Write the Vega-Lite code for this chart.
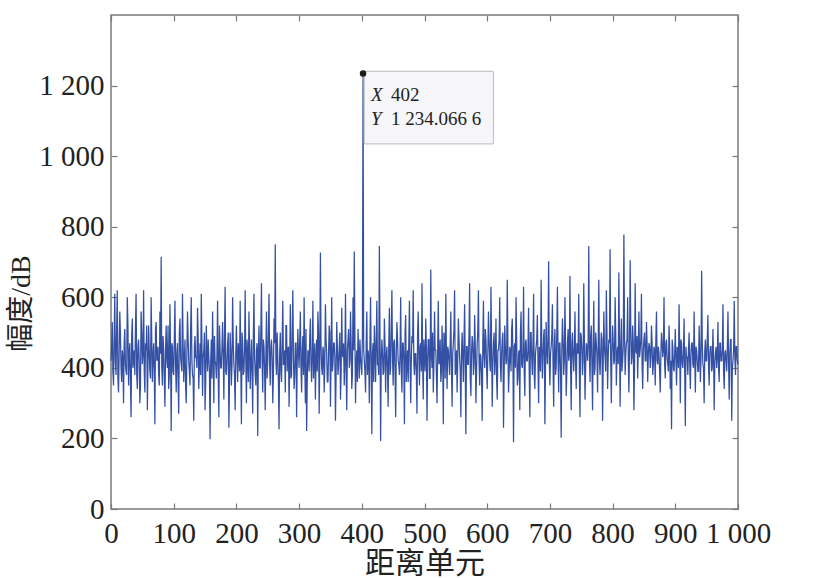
{
  "$schema": "https://vega.github.io/schema/vega-lite/v6.json",
  "width": 627,
  "height": 494,
  "autosize": "none",
  "padding": {"left": 111, "top": 15, "right": 75, "bottom": 69},
  "background": "white",
  "datasets": {
    "sig": [
      {"x":0,"y":420},{"x":2,"y":530},{"x":4,"y":350},{"x":6,"y":610},{"x":8,"y":380},{"x":10,"y":620},{"x":12,"y":330},{"x":14,"y":560},{"x":16,"y":400},{"x":18,"y":450},
      {"x":20,"y":300},{"x":22,"y":510},{"x":24,"y":390},{"x":26,"y":600},{"x":28,"y":350},{"x":30,"y":470},{"x":32,"y":260},{"x":34,"y":540},{"x":36,"y":420},{"x":38,"y":380},
      {"x":40,"y":610},{"x":42,"y":340},{"x":44,"y":480},{"x":46,"y":300},{"x":48,"y":560},{"x":50,"y":410},{"x":52,"y":620},{"x":54,"y":330},{"x":56,"y":450},{"x":58,"y":280},
      {"x":60,"y":520},{"x":62,"y":390},{"x":64,"y":600},{"x":66,"y":360},{"x":68,"y":470},{"x":70,"y":240},{"x":72,"y":530},{"x":74,"y":430},{"x":76,"y":380},{"x":78,"y":560},
      {"x":80,"y":715},{"x":82,"y":350},{"x":84,"y":450},{"x":86,"y":290},{"x":88,"y":520},{"x":90,"y":400},{"x":92,"y":340},{"x":94,"y":580},{"x":96,"y":221},{"x":98,"y":460},
      {"x":100,"y":380},{"x":102,"y":590},{"x":104,"y":330},{"x":106,"y":470},{"x":108,"y":270},{"x":110,"y":540},{"x":112,"y":410},{"x":114,"y":610},{"x":116,"y":360},{"x":118,"y":480},
      {"x":120,"y":300},{"x":122,"y":560},{"x":124,"y":420},{"x":126,"y":350},{"x":128,"y":600},{"x":130,"y":380},{"x":132,"y":250},{"x":134,"y":490},{"x":136,"y":430},{"x":138,"y":570},
      {"x":140,"y":340},{"x":142,"y":470},{"x":144,"y":610},{"x":146,"y":320},{"x":148,"y":450},{"x":150,"y":280},{"x":152,"y":520},{"x":154,"y":390},{"x":156,"y":430},{"x":158,"y":198},
      {"x":160,"y":480},{"x":162,"y":560},{"x":164,"y":300},{"x":166,"y":420},{"x":168,"y":370},{"x":170,"y":590},{"x":172,"y":260},{"x":174,"y":450},{"x":176,"y":400},{"x":178,"y":530},
      {"x":180,"y":310},{"x":182,"y":630},{"x":184,"y":380},{"x":186,"y":470},{"x":188,"y":230},{"x":190,"y":500},{"x":192,"y":350},{"x":194,"y":600},{"x":196,"y":410},{"x":198,"y":280},
      {"x":200,"y":520},{"x":202,"y":360},{"x":204,"y":440},{"x":206,"y":590},{"x":208,"y":240},{"x":210,"y":470},{"x":212,"y":390},{"x":214,"y":620},{"x":216,"y":300},{"x":218,"y":430},
      {"x":220,"y":560},{"x":222,"y":340},{"x":224,"y":480},{"x":226,"y":270},{"x":228,"y":610},{"x":230,"y":380},{"x":232,"y":450},{"x":234,"y":207},{"x":236,"y":520},{"x":238,"y":400},
      {"x":240,"y":640},{"x":242,"y":330},{"x":244,"y":460},{"x":246,"y":280},{"x":248,"y":560},{"x":250,"y":420},{"x":252,"y":610},{"x":254,"y":350},{"x":256,"y":480},{"x":258,"y":300},
      {"x":260,"y":540},{"x":262,"y":750},{"x":264,"y":380},{"x":266,"y":430},{"x":268,"y":226},{"x":270,"y":500},{"x":272,"y":360},{"x":274,"y":590},{"x":276,"y":410},{"x":278,"y":330},
      {"x":280,"y":520},{"x":282,"y":450},{"x":284,"y":290},{"x":286,"y":580},{"x":288,"y":380},{"x":290,"y":620},{"x":292,"y":340},{"x":294,"y":470},{"x":296,"y":260},{"x":298,"y":510},
      {"x":300,"y":400},{"x":302,"y":560},{"x":304,"y":330},{"x":306,"y":490},{"x":308,"y":600},{"x":310,"y":300},{"x":312,"y":221},{"x":314,"y":450},{"x":316,"y":390},{"x":318,"y":540},
      {"x":320,"y":360},{"x":322,"y":590},{"x":324,"y":420},{"x":326,"y":310},{"x":328,"y":480},{"x":330,"y":560},{"x":332,"y":270},{"x":334,"y":727},{"x":336,"y":400},{"x":338,"y":460},
      {"x":340,"y":330},{"x":342,"y":580},{"x":344,"y":440},{"x":346,"y":360},{"x":348,"y":520},{"x":350,"y":290},{"x":352,"y":600},{"x":354,"y":410},{"x":356,"y":470},{"x":358,"y":250},
      {"x":360,"y":530},{"x":362,"y":380},{"x":364,"y":460},{"x":366,"y":310},{"x":368,"y":570},{"x":370,"y":430},{"x":372,"y":350},{"x":374,"y":610},{"x":376,"y":280},{"x":378,"y":480},
      {"x":380,"y":400},{"x":382,"y":560},{"x":384,"y":340},{"x":386,"y":600},{"x":388,"y":730},{"x":390,"y":300},{"x":392,"y":450},{"x":394,"y":510},{"x":396,"y":370},{"x":398,"y":430},
      {"x":400,"y":380},{"x":402,"y":1234.0666},{"x":404,"y":420},{"x":406,"y":330},{"x":408,"y":560},{"x":410,"y":450},{"x":412,"y":300},{"x":414,"y":600},{"x":416,"y":212},{"x":418,"y":470},
      {"x":420,"y":520},{"x":422,"y":360},{"x":424,"y":590},{"x":426,"y":410},{"x":428,"y":745},{"x":430,"y":193},{"x":432,"y":480},{"x":434,"y":380},{"x":436,"y":540},{"x":438,"y":330},
      {"x":440,"y":460},{"x":442,"y":290},{"x":444,"y":570},{"x":446,"y":400},{"x":448,"y":620},{"x":450,"y":350},{"x":452,"y":480},{"x":454,"y":260},{"x":456,"y":530},{"x":458,"y":420},
      {"x":460,"y":380},{"x":462,"y":600},{"x":464,"y":330},{"x":466,"y":470},{"x":468,"y":240},{"x":470,"y":550},{"x":472,"y":410},{"x":474,"y":360},{"x":476,"y":590},{"x":478,"y":300},
      {"x":480,"y":490},{"x":482,"y":620},{"x":484,"y":380},{"x":486,"y":440},{"x":488,"y":270},{"x":490,"y":560},{"x":492,"y":350},{"x":494,"y":470},{"x":496,"y":640},{"x":498,"y":310},
      {"x":500,"y":430},{"x":502,"y":540},{"x":504,"y":250},{"x":506,"y":480},{"x":508,"y":370},{"x":510,"y":679},{"x":512,"y":400},{"x":514,"y":330},{"x":516,"y":560},{"x":518,"y":450},
      {"x":520,"y":300},{"x":522,"y":590},{"x":524,"y":420},{"x":526,"y":360},{"x":528,"y":520},{"x":530,"y":240},{"x":532,"y":480},{"x":534,"y":610},{"x":536,"y":340},{"x":538,"y":450},
      {"x":540,"y":380},{"x":542,"y":560},{"x":544,"y":290},{"x":546,"y":470},{"x":548,"y":620},{"x":550,"y":400},{"x":552,"y":330},{"x":554,"y":540},{"x":556,"y":430},{"x":558,"y":260},
      {"x":560,"y":500},{"x":562,"y":360},{"x":564,"y":580},{"x":566,"y":212},{"x":568,"y":460},{"x":570,"y":410},{"x":572,"y":640},{"x":574,"y":320},{"x":576,"y":490},{"x":578,"y":380},
      {"x":580,"y":550},{"x":582,"y":300},{"x":584,"y":470},{"x":586,"y":620},{"x":588,"y":350},{"x":590,"y":430},{"x":592,"y":250},{"x":594,"y":590},{"x":596,"y":400},{"x":598,"y":480},
      {"x":600,"y":340},{"x":602,"y":560},{"x":604,"y":420},{"x":606,"y":630},{"x":608,"y":290},{"x":610,"y":470},{"x":612,"y":380},{"x":614,"y":540},{"x":616,"y":310},{"x":618,"y":450},
      {"x":620,"y":600},{"x":622,"y":360},{"x":624,"y":480},{"x":626,"y":230},{"x":628,"y":520},{"x":630,"y":410},{"x":632,"y":650},{"x":634,"y":330},{"x":636,"y":460},{"x":638,"y":390},
      {"x":640,"y":540},{"x":642,"y":189},{"x":644,"y":470},{"x":646,"y":600},{"x":648,"y":350},{"x":650,"y":440},{"x":652,"y":280},{"x":654,"y":560},{"x":656,"y":400},{"x":658,"y":630},
      {"x":660,"y":320},{"x":662,"y":480},{"x":664,"y":420},{"x":666,"y":570},{"x":668,"y":260},{"x":670,"y":500},{"x":672,"y":380},{"x":674,"y":610},{"x":676,"y":340},{"x":678,"y":460},
      {"x":680,"y":550},{"x":682,"y":300},{"x":684,"y":430},{"x":686,"y":650},{"x":688,"y":370},{"x":690,"y":490},{"x":692,"y":240},{"x":694,"y":530},{"x":696,"y":410},{"x":698,"y":702},
      {"x":700,"y":350},{"x":702,"y":460},{"x":704,"y":580},{"x":706,"y":290},{"x":708,"y":510},{"x":710,"y":400},{"x":712,"y":630},{"x":714,"y":330},{"x":716,"y":470},{"x":718,"y":202},
      {"x":720,"y":540},{"x":722,"y":380},{"x":724,"y":600},{"x":726,"y":320},{"x":728,"y":470},{"x":730,"y":420},{"x":732,"y":660},{"x":734,"y":280},{"x":736,"y":500},{"x":738,"y":390},
      {"x":740,"y":560},{"x":742,"y":340},{"x":744,"y":450},{"x":746,"y":610},{"x":748,"y":260},{"x":750,"y":490},{"x":752,"y":380},{"x":754,"y":640},{"x":756,"y":310},{"x":758,"y":470},
      {"x":760,"y":420},{"x":762,"y":745},{"x":764,"y":360},{"x":766,"y":520},{"x":768,"y":280},{"x":770,"y":590},{"x":772,"y":400},{"x":774,"y":470},{"x":776,"y":330},{"x":778,"y":650},
      {"x":780,"y":380},{"x":782,"y":500},{"x":784,"y":250},{"x":786,"y":560},{"x":788,"y":430},{"x":790,"y":620},{"x":792,"y":340},{"x":794,"y":480},{"x":796,"y":736},{"x":798,"y":300},
      {"x":800,"y":520},{"x":802,"y":410},{"x":804,"y":600},{"x":806,"y":350},{"x":808,"y":460},{"x":810,"y":670},{"x":812,"y":290},{"x":814,"y":540},{"x":816,"y":420},{"x":818,"y":778},
      {"x":820,"y":380},{"x":822,"y":470},{"x":824,"y":600},{"x":826,"y":330},{"x":828,"y":705},{"x":830,"y":410},{"x":832,"y":520},{"x":834,"y":280},{"x":836,"y":640},{"x":838,"y":440},
      {"x":840,"y":370},{"x":842,"y":560},{"x":844,"y":450},{"x":846,"y":610},{"x":848,"y":340},{"x":850,"y":480},{"x":852,"y":420},{"x":854,"y":530},{"x":856,"y":360},{"x":858,"y":470},
      {"x":860,"y":400},{"x":862,"y":520},{"x":864,"y":380},{"x":866,"y":460},{"x":868,"y":350},{"x":870,"y":560},{"x":872,"y":410},{"x":874,"y":440},{"x":876,"y":330},{"x":878,"y":500},
      {"x":880,"y":430},{"x":882,"y":600},{"x":884,"y":370},{"x":886,"y":480},{"x":888,"y":410},{"x":890,"y":520},{"x":892,"y":340},{"x":894,"y":226},{"x":896,"y":460},{"x":898,"y":390},
      {"x":900,"y":510},{"x":902,"y":350},{"x":904,"y":440},{"x":906,"y":580},{"x":908,"y":300},{"x":910,"y":470},{"x":912,"y":400},{"x":914,"y":540},{"x":916,"y":235},{"x":918,"y":430},
      {"x":920,"y":380},{"x":922,"y":500},{"x":924,"y":340},{"x":926,"y":470},{"x":928,"y":410},{"x":930,"y":560},{"x":932,"y":330},{"x":934,"y":450},{"x":936,"y":390},{"x":938,"y":520},
      {"x":940,"y":360},{"x":942,"y":675},{"x":944,"y":410},{"x":946,"y":300},{"x":948,"y":480},{"x":950,"y":420},{"x":952,"y":550},{"x":954,"y":350},{"x":956,"y":460},{"x":958,"y":390},
      {"x":960,"y":510},{"x":962,"y":280},{"x":964,"y":440},{"x":966,"y":400},{"x":968,"y":530},{"x":970,"y":360},{"x":972,"y":470},{"x":974,"y":420},{"x":976,"y":580},{"x":978,"y":340},
      {"x":980,"y":450},{"x":982,"y":390},{"x":984,"y":560},{"x":986,"y":310},{"x":988,"y":480},{"x":990,"y":250},{"x":992,"y":420},{"x":994,"y":590},{"x":996,"y":380},{"x":998,"y":460},
      {"x":1000,"y":410},
      {"x":1,"y":460},{"x":3,"y":390},{"x":5,"y":480},{"x":7,"y":420},{"x":9,"y":510},{"x":11,"y":370},{"x":13,"y":440},{"x":15,"y":500},{"x":17,"y":360},{"x":19,"y":430},
      {"x":21,"y":470},{"x":23,"y":410},{"x":25,"y":380},{"x":27,"y":520},{"x":29,"y":440},{"x":31,"y":360},{"x":33,"y":490},{"x":35,"y":400},{"x":37,"y":450},{"x":39,"y":510},
      {"x":41,"y":380},{"x":43,"y":460},{"x":45,"y":420},{"x":47,"y":350},{"x":49,"y":500},{"x":51,"y":440},{"x":53,"y":390},{"x":55,"y":470},{"x":57,"y":520},{"x":59,"y":410},
      {"x":61,"y":450},{"x":63,"y":370},{"x":65,"y":480},{"x":67,"y":430},{"x":69,"y":390},{"x":71,"y":510},{"x":73,"y":420},{"x":75,"y":460},{"x":77,"y":350},{"x":79,"y":440},
      {"x":81,"y":400},{"x":83,"y":490},{"x":85,"y":370},{"x":87,"y":450},{"x":89,"y":420},{"x":91,"y":520},{"x":93,"y":380},{"x":95,"y":440},{"x":97,"y":470},{"x":99,"y":390},
      {"x":101,"y":480},{"x":103,"y":410},{"x":105,"y":440},{"x":107,"y":360},{"x":109,"y":500},{"x":111,"y":430},{"x":113,"y":390},{"x":115,"y":470},{"x":117,"y":420},{"x":119,"y":350},
      {"x":121,"y":440},{"x":123,"y":480},{"x":125,"y":390},{"x":127,"y":510},{"x":129,"y":420},{"x":131,"y":370},{"x":133,"y":460},{"x":135,"y":430},{"x":137,"y":400},{"x":139,"y":490},
      {"x":141,"y":410},{"x":143,"y":380},{"x":145,"y":470},{"x":147,"y":430},{"x":149,"y":500},{"x":151,"y":360},{"x":153,"y":440},{"x":155,"y":480},{"x":157,"y":390},{"x":159,"y":420},
      {"x":161,"y":370},{"x":163,"y":450},{"x":165,"y":490},{"x":167,"y":410},{"x":169,"y":440},{"x":171,"y":380},{"x":173,"y":520},{"x":175,"y":400},{"x":177,"y":460},{"x":179,"y":430},
      {"x":181,"y":480},{"x":183,"y":390},{"x":185,"y":420},{"x":187,"y":500},{"x":189,"y":360},{"x":191,"y":450},{"x":193,"y":410},{"x":195,"y":470},{"x":197,"y":380},{"x":199,"y":440},
      {"x":201,"y":430},{"x":203,"y":470},{"x":205,"y":390},{"x":207,"y":410},{"x":209,"y":500},{"x":211,"y":380},{"x":213,"y":450},{"x":215,"y":420},{"x":217,"y":480},{"x":219,"y":360},
      {"x":221,"y":460},{"x":223,"y":410},{"x":225,"y":380},{"x":227,"y":490},{"x":229,"y":430},{"x":231,"y":350},{"x":233,"y":470},{"x":235,"y":440},{"x":237,"y":400},{"x":239,"y":510},
      {"x":241,"y":420},{"x":243,"y":480},{"x":245,"y":390},{"x":247,"y":440},{"x":249,"y":370},{"x":251,"y":500},{"x":253,"y":410},{"x":255,"y":460},{"x":257,"y":430},{"x":259,"y":380},
      {"x":261,"y":470},{"x":263,"y":420},{"x":265,"y":500},{"x":267,"y":360},{"x":269,"y":440},{"x":271,"y":390},{"x":273,"y":480},{"x":275,"y":410},{"x":277,"y":450},{"x":279,"y":520},
      {"x":281,"y":390},{"x":283,"y":460},{"x":285,"y":410},{"x":287,"y":370},{"x":289,"y":500},{"x":291,"y":430},{"x":293,"y":380},{"x":295,"y":470},{"x":297,"y":420},{"x":299,"y":440},
      {"x":301,"y":480},{"x":303,"y":400},{"x":305,"y":450},{"x":307,"y":380},{"x":309,"y":420},{"x":311,"y":510},{"x":313,"y":360},{"x":315,"y":440},{"x":317,"y":490},{"x":319,"y":410},
      {"x":321,"y":440},{"x":323,"y":370},{"x":325,"y":470},{"x":327,"y":420},{"x":329,"y":390},{"x":331,"y":500},{"x":333,"y":430},{"x":335,"y":460},{"x":337,"y":380},{"x":339,"y":450},
      {"x":341,"y":410},{"x":343,"y":480},{"x":345,"y":360},{"x":347,"y":440},{"x":349,"y":500},{"x":351,"y":420},{"x":353,"y":390},{"x":355,"y":470},{"x":357,"y":430},{"x":359,"y":380},
      {"x":361,"y":460},{"x":363,"y":410},{"x":365,"y":500},{"x":367,"y":380},{"x":369,"y":440},{"x":371,"y":470},{"x":373,"y":420},{"x":375,"y":390},{"x":377,"y":450},{"x":379,"y":510},
      {"x":381,"y":420},{"x":383,"y":470},{"x":385,"y":380},{"x":387,"y":450},{"x":389,"y":490},{"x":391,"y":410},{"x":393,"y":360},{"x":395,"y":440},{"x":397,"y":480},{"x":399,"y":400},
      {"x":401,"y":500},{"x":403,"y":450},{"x":405,"y":390},{"x":407,"y":470},{"x":409,"y":380},{"x":411,"y":430},{"x":413,"y":480},{"x":415,"y":410},{"x":417,"y":440},{"x":419,"y":360},
      {"x":421,"y":450},{"x":423,"y":480},{"x":425,"y":410},{"x":427,"y":380},{"x":429,"y":500},{"x":431,"y":420},{"x":433,"y":440},{"x":435,"y":390},{"x":437,"y":470},{"x":439,"y":430},
      {"x":441,"y":400},{"x":443,"y":460},{"x":445,"y":380},{"x":447,"y":510},{"x":449,"y":430},{"x":451,"y":470},{"x":453,"y":390},{"x":455,"y":440},{"x":457,"y":480},{"x":459,"y":410},
      {"x":461,"y":440},{"x":463,"y":390},{"x":465,"y":470},{"x":467,"y":420},{"x":469,"y":500},{"x":471,"y":360},{"x":473,"y":450},{"x":475,"y":480},{"x":477,"y":410},{"x":479,"y":430},
      {"x":481,"y":470},{"x":483,"y":410},{"x":485,"y":440},{"x":487,"y":380},{"x":489,"y":500},{"x":491,"y":430},{"x":493,"y":460},{"x":495,"y":390},{"x":497,"y":420},{"x":499,"y":480},
      {"x":501,"y":390},{"x":503,"y":460},{"x":505,"y":420},{"x":507,"y":480},{"x":509,"y":370},{"x":511,"y":440},{"x":513,"y":500},{"x":515,"y":410},{"x":517,"y":450},{"x":519,"y":380},
      {"x":521,"y":450},{"x":523,"y":410},{"x":525,"y":480},{"x":527,"y":390},{"x":529,"y":440},{"x":531,"y":500},{"x":533,"y":370},{"x":535,"y":430},{"x":537,"y":460},{"x":539,"y":420},
      {"x":541,"y":470},{"x":543,"y":400},{"x":545,"y":440},{"x":547,"y":510},{"x":549,"y":380},{"x":551,"y":450},{"x":553,"y":420},{"x":555,"y":480},{"x":557,"y":390},{"x":559,"y":440},
      {"x":561,"y":430},{"x":563,"y":480},{"x":565,"y":390},{"x":567,"y":460},{"x":569,"y":410},{"x":571,"y":500},{"x":573,"y":370},{"x":575,"y":440},{"x":577,"y":470},{"x":579,"y":410},
      {"x":581,"y":460},{"x":583,"y":390},{"x":585,"y":500},{"x":587,"y":420},{"x":589,"y":440},{"x":591,"y":380},{"x":593,"y":470},{"x":595,"y":430},{"x":597,"y":510},{"x":599,"y":400},
      {"x":601,"y":440},{"x":603,"y":480},{"x":605,"y":390},{"x":607,"y":460},{"x":609,"y":410},{"x":611,"y":500},{"x":613,"y":430},{"x":615,"y":370},{"x":617,"y":450},{"x":619,"y":480},
      {"x":621,"y":410},{"x":623,"y":440},{"x":625,"y":500},{"x":627,"y":380},{"x":629,"y":460},{"x":631,"y":420},{"x":633,"y":470},{"x":635,"y":390},{"x":637,"y":440},{"x":639,"y":510},
      {"x":641,"y":430},{"x":643,"y":460},{"x":645,"y":400},{"x":647,"y":480},{"x":649,"y":370},{"x":651,"y":450},{"x":653,"y":500},{"x":655,"y":410},{"x":657,"y":440},{"x":659,"y":390},
      {"x":661,"y":470},{"x":663,"y":420},{"x":665,"y":450},{"x":667,"y":390},{"x":669,"y":500},{"x":671,"y":430},{"x":673,"y":460},{"x":675,"y":380},{"x":677,"y":440},{"x":679,"y":480},
      {"x":681,"y":410},{"x":683,"y":460},{"x":685,"y":390},{"x":687,"y":470},{"x":689,"y":430},{"x":691,"y":510},{"x":693,"y":400},{"x":695,"y":450},{"x":697,"y":480},{"x":699,"y":420},
      {"x":701,"y":440},{"x":703,"y":490},{"x":705,"y":410},{"x":707,"y":460},{"x":709,"y":380},{"x":711,"y":500},{"x":713,"y":430},{"x":715,"y":470},{"x":717,"y":390},{"x":719,"y":450},
      {"x":721,"y":480},{"x":723,"y":420},{"x":725,"y":460},{"x":727,"y":390},{"x":729,"y":510},{"x":731,"y":440},{"x":733,"y":400},{"x":735,"y":470},{"x":737,"y":430},{"x":739,"y":460},
      {"x":741,"y":410},{"x":743,"y":470},{"x":745,"y":440},{"x":747,"y":390},{"x":749,"y":500},{"x":751,"y":450},{"x":753,"y":420},{"x":755,"y":480},{"x":757,"y":400},{"x":759,"y":460},
      {"x":761,"y":470},{"x":763,"y":430},{"x":765,"y":490},{"x":767,"y":410},{"x":769,"y":450},{"x":771,"y":380},{"x":773,"y":500},{"x":775,"y":440},{"x":777,"y":460},{"x":779,"y":420},
      {"x":781,"y":440},{"x":783,"y":480},{"x":785,"y":410},{"x":787,"y":460},{"x":789,"y":390},{"x":791,"y":500},{"x":793,"y":430},{"x":795,"y":470},{"x":797,"y":420},{"x":799,"y":450},
      {"x":801,"y":470},{"x":803,"y":420},{"x":805,"y":500},{"x":807,"y":440},{"x":809,"y":410},{"x":811,"y":480},{"x":813,"y":450},{"x":815,"y":390},{"x":817,"y":460},{"x":819,"y":500},
      {"x":821,"y":440},{"x":823,"y":480},{"x":825,"y":420},{"x":827,"y":460},{"x":829,"y":510},{"x":831,"y":430},{"x":833,"y":470},{"x":835,"y":400},{"x":837,"y":450},{"x":839,"y":490},
      {"x":841,"y":460},{"x":843,"y":430},{"x":845,"y":480},{"x":847,"y":410},{"x":849,"y":450},{"x":851,"y":500},{"x":853,"y":420},{"x":855,"y":470},{"x":857,"y":440},{"x":859,"y":460},
      {"x":861,"y":430},{"x":863,"y":470},{"x":865,"y":410},{"x":867,"y":450},{"x":869,"y":480},{"x":871,"y":420},{"x":873,"y":460},{"x":875,"y":390},{"x":877,"y":440},{"x":879,"y":470},
      {"x":881,"y":450},{"x":883,"y":410},{"x":885,"y":470},{"x":887,"y":430},{"x":889,"y":390},{"x":891,"y":460},{"x":893,"y":420},{"x":895,"y":480},{"x":897,"y":400},{"x":899,"y":440},
      {"x":901,"y":420},{"x":903,"y":460},{"x":905,"y":400},{"x":907,"y":450},{"x":909,"y":480},{"x":911,"y":410},{"x":913,"y":440},{"x":915,"y":390},{"x":917,"y":460},{"x":919,"y":430},
      {"x":921,"y":450},{"x":923,"y":410},{"x":925,"y":440},{"x":927,"y":470},{"x":929,"y":400},{"x":931,"y":430},{"x":933,"y":460},{"x":935,"y":420},{"x":937,"y":390},{"x":939,"y":450},
      {"x":941,"y":430},{"x":943,"y":470},{"x":945,"y":400},{"x":947,"y":450},{"x":949,"y":420},{"x":951,"y":480},{"x":953,"y":410},{"x":955,"y":440},{"x":957,"y":460},{"x":959,"y":400},
      {"x":961,"y":440},{"x":963,"y":410},{"x":965,"y":460},{"x":967,"y":430},{"x":969,"y":400},{"x":971,"y":470},{"x":973,"y":420},{"x":975,"y":450},{"x":977,"y":390},{"x":979,"y":440},
      {"x":981,"y":420},{"x":983,"y":460},{"x":985,"y":410},{"x":987,"y":440},{"x":989,"y":480},{"x":991,"y":400},{"x":993,"y":450},{"x":995,"y":430},{"x":997,"y":460},{"x":999,"y":420}
    ],
    "tip": [{"x": 402, "y": 1234.0666, "xl": "402", "yl": "1 234.066 6"}]
  },
  "resolve": {"axis": {"x": "independent", "y": "independent"}},
  "layer": [
    {
      "data": {"name": "sig"},
      "mark": {"type": "line", "color": "#3450a4", "strokeWidth": 1.25},
      "encoding": {
        "x": {
          "field": "x", "type": "quantitative",
          "scale": {"domain": [0, 1000], "nice": false, "zero": false},
          "axis": {
            "orient": "bottom", "title": "距离单元",
            "values": [0, 100, 200, 300, 400, 500, 600, 700, 800, 900, 1000],
            "labelExpr": "replace(format(datum.value, ','), ',', ' ')",
            "offset": -6, "labelPadding": 10,
            "titleBaseline": "alphabetic", "titleY": 69, "titleFontSize": 30
          }
        },
        "y": {
          "field": "y", "type": "quantitative",
          "scale": {"domain": [0, 1400], "nice": false},
          "axis": {
            "orient": "left", "title": "幅度/dB",
            "values": [0, 200, 400, 600, 800, 1000, 1200],
            "labelExpr": "replace(format(datum.value, ','), ',', ' ')",
            "offset": -6, "labelPadding": 7,
            "titleBaseline": "middle", "titleX": -96, "titleY": 288, "titleAlign": "center", "titleFontSize": 28
          }
        }
      }
    },
    {
      "data": {"name": "tip"},
      "mark": {"type": "rect", "fill": "#f6f6f9", "stroke": "#c6c6ca", "strokeWidth": 1.2, "cornerRadius": 1},
      "encoding": {
        "x": {"datum": 404, "type": "quantitative", "axis": null},
        "x2": {"datum": 610},
        "y": {"datum": 1240, "type": "quantitative", "axis": null},
        "y2": {"datum": 1035}
      }
    },
    {
      "data": {"name": "tip"},
      "mark": {"type": "point", "filled": true, "color": "#1a1a1a", "size": 42, "opacity": 1},
      "encoding": {
        "x": {
          "field": "x", "type": "quantitative",
          "axis": {"orient": "top", "title": null, "labels": false, "offset": -6,
                   "values": [0, 100, 200, 300, 400, 500, 600, 700, 800, 900, 1000]}
        },
        "y": {
          "field": "y", "type": "quantitative",
          "axis": {"orient": "right", "title": null, "labels": false, "offset": -6,
                   "values": [0, 200, 400, 600, 800, 1000, 1200]}
        }
      }
    },
    {
      "data": {"name": "tip"},
      "mark": {"type": "text", "text": "X", "fontStyle": "italic", "align": "left", "baseline": "alphabetic", "dx": 8, "dy": 27, "font": "Liberation Serif", "fontSize": 19, "color": "#222"},
      "encoding": {
        "x": {"field": "x", "type": "quantitative", "axis": null},
        "y": {"field": "y", "type": "quantitative", "axis": null}
      }
    },
    {
      "data": {"name": "tip"},
      "mark": {"type": "text", "align": "left", "baseline": "alphabetic", "dx": 28, "dy": 27, "font": "Liberation Serif", "fontSize": 19, "color": "#222"},
      "encoding": {
        "x": {"field": "x", "type": "quantitative", "axis": null},
        "y": {"field": "y", "type": "quantitative", "axis": null},
        "text": {"field": "xl"}
      }
    },
    {
      "data": {"name": "tip"},
      "mark": {"type": "text", "text": "Y", "fontStyle": "italic", "align": "left", "baseline": "alphabetic", "dx": 8, "dy": 51, "font": "Liberation Serif", "fontSize": 19, "color": "#222"},
      "encoding": {
        "x": {"field": "x", "type": "quantitative", "axis": null},
        "y": {"field": "y", "type": "quantitative", "axis": null}
      }
    },
    {
      "data": {"name": "tip"},
      "mark": {"type": "text", "align": "left", "baseline": "alphabetic", "dx": 28, "dy": 51, "font": "Liberation Serif", "fontSize": 19, "color": "#222"},
      "encoding": {
        "x": {"field": "x", "type": "quantitative", "axis": null},
        "y": {"field": "y", "type": "quantitative", "axis": null},
        "text": {"field": "yl"}
      }
    }
  ],
  "config": {
    "view": {"stroke": "#7a7a7a", "strokeWidth": 1.5},
    "axis": {
      "grid": false, "domain": false,
      "tickColor": "#7a7a7a", "tickWidth": 1.2, "tickSize": 6,
      "labelOverlap": false, "labelFlush": false,
      "labelFont": "Liberation Serif", "labelFontSize": 29, "labelColor": "#222",
      "titleFont": "Liberation Serif, Noto Sans CJK SC", "titleFontWeight": "normal", "titleColor": "#222"
    }
  }
}
